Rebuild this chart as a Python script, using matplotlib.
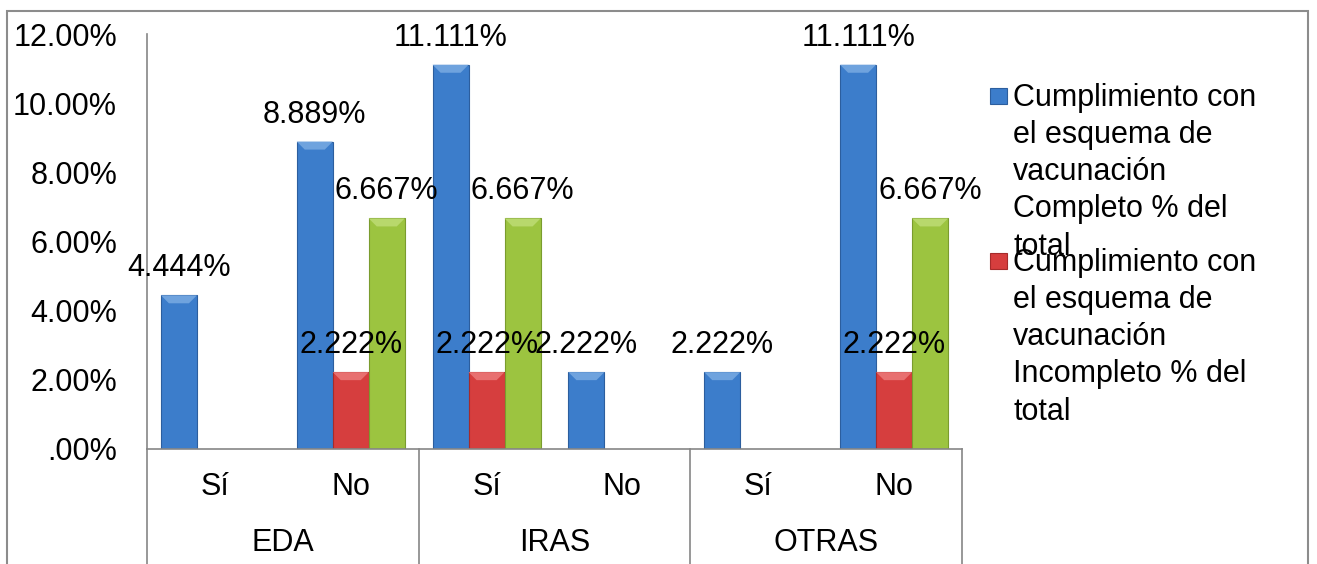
import numpy as np
import matplotlib
matplotlib.use("Agg")
import matplotlib.pyplot as plt
from matplotlib.patches import Rectangle, Polygon
from matplotlib.transforms import blended_transform_factory

plt.rcParams["font.family"] = ["Liberation Sans", "DejaVu Sans"]

# ── datos ──────────────────────────────────────────────────────────
groups = ["EDA", "IRAS", "OTRAS"]
answers = ["Sí", "No", "Sí", "No", "Sí", "No"]
completo = [4.444, 8.889, 11.111, 2.222, 2.222, 11.111]
incompleto = [0, 2.222, 2.222, 0, 0, 2.222]
tercera = [0, 6.667, 6.667, 0, 0, 6.667]
series_labels = [
    "Cumplimiento con\nel esquema de\nvacunación\nCompleto % del\ntotal",
    "Cumplimiento con\nel esquema de\nvacunación\nIncompleto % del\ntotal",
]
yticks = [0, 2, 4, 6, 8, 10, 12]
ytick_labels = [".00%", "2.00%", "4.00%", "6.00%", "8.00%", "10.00%", "12.00%"]

# (relleno, borde, bisel superior)
colors = [
    ("#3C7DCB", "#2C5E9E", "#6FA3DE"),
    ("#D63E3E", "#A52B2B", "#E87070"),
    ("#9CC440", "#7A9C2E", "#B8D86C"),
]

FS = 22
W, H = 1317, 564
fig = plt.figure(figsize=(W / 100, H / 100), dpi=100)
ax = fig.add_axes([147 / W, 1 - 449 / H, (962 - 147) / W, (449 - 34) / H])
ax.set_xlim(-0.5, 5.5)
ax.set_ylim(0, 12)

x = np.arange(len(answers))
width = 0.265
px_y = 12 / (449 - 34)       # unidades de datos por pixel (vertical)
px_x = 6 / (962 - 147)       # unidades de datos por pixel (horizontal)

for i, vals in enumerate([completo, incompleto, tercera]):
    face, edge, top = colors[i]
    vals = np.asarray(vals)
    keep = vals > 0
    xs = x[keep] + (i - 1) * width
    bars = ax.bar(xs, vals[keep], width, color=face, edgecolor=edge, linewidth=0.8, zorder=2)
    for b, v in zip(bars, vals[keep]):
        x0, w = b.get_x(), b.get_width()
        bh, bi = 8 * px_y, 8 * px_x
        # bisel claro en la parte superior de la barra
        ax.add_patch(Polygon([(x0, v), (x0 + w, v), (x0 + w - bi, v - bh), (x0 + bi, v - bh)],
                             closed=True, facecolor=top, edgecolor="none", zorder=2.1))
        ax.annotate(f"{v:.3f}%", (x0 + w / 2, v), xytext=(0, 19.5), textcoords="offset points",
                    ha="center", va="center", fontsize=FS, zorder=5)

# ejes
for s in ["top", "right"]:
    ax.spines[s].set_visible(False)
for s in ["left", "bottom"]:
    ax.spines[s].set_color("#868686")
    ax.spines[s].set_linewidth(1.2)
ax.set_yticks(yticks)
ax.set_yticklabels(ytick_labels, fontsize=FS)
ax.tick_params(axis="y", length=0, pad=21.6)
ax.set_xticks([])

# etiquetas de categorías en dos niveles
trans = blended_transform_factory(ax.transData, ax.transAxes)
for xi, lab in zip(x, answers):
    ax.text(xi, -38 / 415, lab, transform=trans, ha="center", va="center", fontsize=FS)
for g, name in enumerate(groups):
    ax.text(2 * g + 0.5, -94 / 415, name, transform=trans, ha="center", va="center", fontsize=FS)
for xb in [-0.5, 1.5, 3.5, 5.5]:
    ax.plot([xb, xb], [0, -0.3], transform=trans, color="#868686", lw=1.2, clip_on=False)

# leyenda
legend_tops = [83, 248]
for (face, edge, _), lab, ty in zip(colors, series_labels, legend_tops):
    fig.patches.append(Rectangle((990 / W, 1 - (ty + 21) / H), 17 / W, 16 / H,
                                 facecolor=face, edgecolor=edge, lw=0.8,
                                 transform=fig.transFigure, figure=fig))
    fig.text(1013 / W, 1 - ty / H, lab, ha="left", va="top", fontsize=FS, linespacing=1.31)

# marco exterior del gráfico
fig.patches.append(Rectangle((7 / W, -0.05), (1308 - 7) / W, 1.05 - 11 / H,
                             fill=False, edgecolor="#8C8C8C", lw=1.5,
                             transform=fig.transFigure, figure=fig))

fig.savefig("out.png", dpi=100)
